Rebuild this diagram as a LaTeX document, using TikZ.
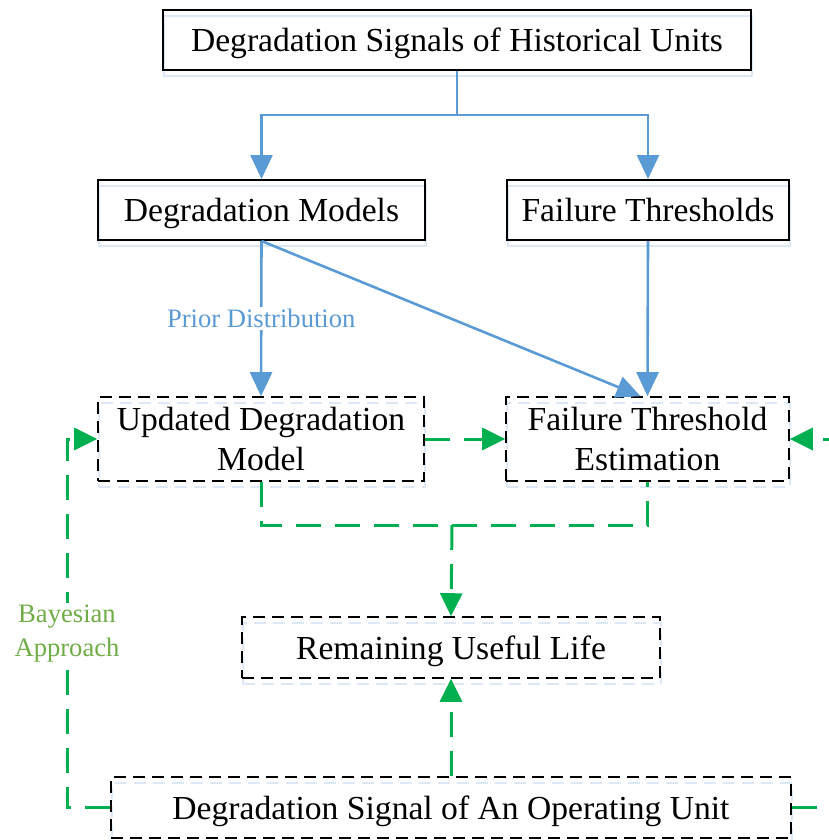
\documentclass[tikz,border=0pt]{standalone}
\usepackage{fontspec}
\setmainfont{Liberation Serif}
\usetikzlibrary{arrows.meta}
\usetikzlibrary{calc}
\usepackage{xcolor}

\definecolor{blueline}{HTML}{5B9BD5}
\definecolor{greenline}{HTML}{00B050}
\definecolor{greentext}{HTML}{70AD47}
\definecolor{ghostblue}{HTML}{DCE8F5}
\newcommand{\boxfont}{\fontsize{16.8}{20}\selectfont}
\newcommand{\labfont}{\fontsize{13.3}{17}\selectfont}

\begin{document}
\begin{tikzpicture}[x=0.5pt, y=-0.5pt]
        % ================= styles =================
        \tikzset{
            % solid box (historical data)
            sbox/.style={draw=black, line width=1pt, inner sep=0pt, align=center, font=\boxfont,
                preaction={draw=ghostblue, line width=0.8pt, transform canvas={xshift=0.5pt, yshift=-3pt}}},
            % dashed box (operating unit)
            dbox/.style={draw=black, line width=0.8pt, dash pattern=on 6pt off 3.5pt, inner sep=0pt, align=center, font=\boxfont,
                preaction={draw=ghostblue, line width=0.8pt, dash pattern=on 6pt off 3.5pt, transform canvas={xshift=0.5pt, yshift=-3pt}}},
            % one line of text sits a bit lower
            oneline/.style={text depth=0pt},
            % connectors
            blue_line/.style={line width=1.3pt, blueline},
            blue_arrow/.style={blue_line, -{Triangle[length=12pt, width=11pt]}},
            green_line/.style={line width=1.5pt, greenline, dash pattern=on 12.5pt off 7pt},
            green_arrow/.style={green_line, -{Triangle[length=11.5pt, width=11pt]}},
            % labels on connectors
            blue_lab/.style={fill=white, text=blueline, font=\labfont, inner sep=1pt},
            green_lab/.style={fill=white, text=greentext, font=\labfont, align=center, inner sep=1pt}
        }
        \useasboundingbox (0,0) rectangle (829,840);

        % ================= coordinates (pixel grid) =================
        \coordinate (top_p) at (457,40);
        \coordinate (dm_p) at (261.5,210);
        \coordinate (ft_p) at (648,210);
        \coordinate (udm_p) at (261,439);
        \coordinate (fte_p) at (647.5,439);
        \coordinate (rul_p) at (451,647.5);
        \coordinate (dsou_p) at (451,807.5);

        % ================= boxes =================
        \node[sbox, oneline, minimum width=294pt, minimum height=30pt] (top) at (top_p) {Degradation Signals of Historical Units};
        \node[sbox, oneline, minimum width=163.5pt, minimum height=30pt] (dm) at (dm_p) {Degradation Models};
        \node[sbox, oneline, minimum width=141pt, minimum height=30pt] (ft) at (ft_p) {Failure Thresholds};
        \node[dbox, minimum width=163pt, minimum height=42pt] (udm) at (udm_p) {Updated Degradation\\Model};
        \node[dbox, minimum width=141.5pt, minimum height=42pt] (fte) at (fte_p) {Failure Threshold\\Estimation};
        \node[dbox, oneline, minimum width=209pt, minimum height=30.5pt] (rul) at (rul_p) {Remaining Useful Life};
        \node[dbox, oneline, minimum width=340pt, minimum height=30.5pt] (dsou) at (dsou_p) {Degradation Signal of An Operating Unit};

        % helper points for the routed lines
        \coordinate (split_p) at (457,115);
        \coordinate (merge_p) at (452,525);
        \coordinate (left_p) at (67,807.5);
        \coordinate (right_p) at (850,807.5);

        % ================= blue edges (historical units) =================
        \draw[blue_line] (top.south) -- (split_p);
        \draw[blue_arrow] (split_p) -| (dm.north);
        \draw[blue_arrow] (split_p) -| (ft.north);
        \draw[blue_arrow] (dm.south) -- node[blue_lab] (prior) {Prior Distribution} (udm.north);
        \draw[blue_arrow] (dm.south) -- ([xshift=-3.5pt]fte.north);
        \draw[blue_arrow] (ft.south) -- (fte.north);

        % ================= green edges (operating unit) =================
        \draw[green_arrow] (udm.east) -- (fte.west);
        \draw[green_line] (udm.south) |- (merge_p) -| (fte.south);
        \draw[green_arrow] (merge_p) -- (rul.north);
        \draw[green_arrow] (dsou.north) -- (rul.south);
        \draw[green_arrow] (dsou.west) -- (left_p) |- (udm.west);
        \draw[green_arrow] (dsou.east) -- (right_p) |- (fte.east);

        \node[green_lab] (bayes) at (67,634) {Bayesian\\Approach};

    \end{tikzpicture}
\end{document}
